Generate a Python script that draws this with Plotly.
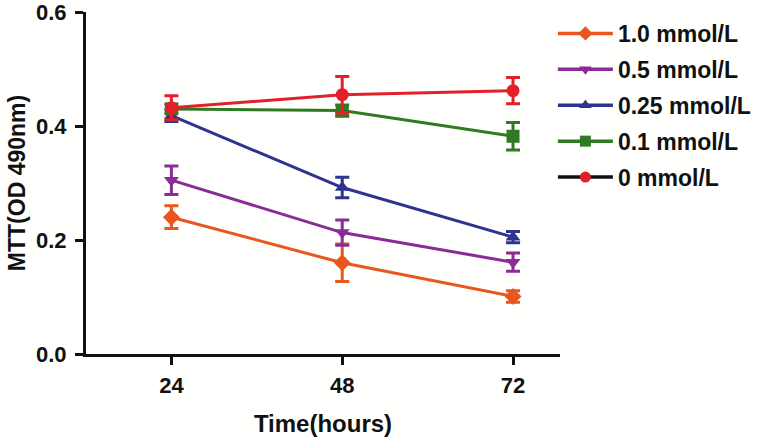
import plotly.graph_objects as go

hours = [24, 48, 72]
series_names = ["1.0 mmol/L", "0.5 mmol/L", "0.25 mmol/L", "0.1 mmol/L", "0 mmol/L"]
val_1_0 = [0.240, 0.160, 0.101]
err_1_0 = [0.020, 0.033, 0.010]
val_0_5 = [0.305, 0.213, 0.161]
err_0_5 = [0.025, 0.022, 0.016]
val_0_25 = [0.418, 0.292, 0.205]
err_0_25 = [0.010, 0.018, 0.010]
val_0_1 = [0.430, 0.427, 0.382]
err_0_1 = [0.008, 0.010, 0.024]
val_0 = [0.432, 0.455, 0.462]
err_0 = [0.021, 0.032, 0.023]
y_ticks = [0.0, 0.2, 0.4, 0.6]
y_ticklabels = ["0.0", "0.2", "0.4", "0.6"]

values = [val_1_0, val_0_5, val_0_25, val_0_1, val_0]
errors = [err_1_0, err_0_5, err_0_25, err_0_1, err_0]
colors = ["#E9561F", "#8A2C96", "#2F3390", "#2F7A22", "#E3202A"]
legend_line_colors = ["#E9561F", "#8A2C96", "#2F3390", "#2F7A22", "#111111"]
symbols = ["diamond", "triangle-down", "triangle-up", "square", "circle"]

fig = go.Figure()
for i in range(5):
    fig.add_trace(go.Scatter(
        x=hours, y=values[i], mode="lines+markers",
        line=dict(color=colors[i], width=3),
        marker=dict(symbol=symbols[i], size=13, color=colors[i]),
        error_y=dict(type="data", array=errors[i], color=colors[i], thickness=3, width=7),
        showlegend=False,
    ))
for i in range(5):
    fig.add_trace(go.Scatter(
        x=[None], y=[None], mode="lines+markers", name="<b>" + series_names[i] + "</b>",
        legendgroup=series_names[i],
        line=dict(color=legend_line_colors[i], width=3.5),
        marker=dict(symbol=symbols[i], size=11, color=colors[i]),
    ))

fam = "Liberation Sans, Arial, sans-serif"
fig.update_layout(
    width=760, height=440,
    margin=dict(l=86, r=200, t=12, b=86, autoexpand=False),
    paper_bgcolor="#FFFFFD", plot_bgcolor="#FFFFFD",
    font=dict(family=fam, size=20, color="#111111"),
    legend=dict(x=0.985, y=1.0, xanchor="left", yanchor="top",
                font=dict(family=fam, size=23, color="#111111"),
                itemwidth=55, tracegroupgap=3, bgcolor="rgba(0,0,0,0)"),
    xaxis=dict(range=[12, 78.6], tickvals=hours, ticktext=["<b>%d</b>" % h for h in hours],
               automargin=False, ticklabeloverflow="allow",
               showgrid=False, zeroline=False, showline=True, linecolor="#111111", linewidth=3,
               ticks="outside", ticklen=8, tickwidth=3, tickcolor="#111111",
               ticklabelstandoff=2,
               tickfont=dict(family=fam, size=22, color="#111111"),
               title=dict(text="<b>Time(hours)</b>", font=dict(family=fam, size=24, color="#111111"), standoff=18)),
    yaxis=dict(range=[0, 0.6], tickvals=y_ticks, ticktext=["<b>%s</b>" % t for t in y_ticklabels],
               automargin=False, ticklabeloverflow="allow",
               showgrid=False, zeroline=False, showline=True, linecolor="#111111", linewidth=3,
               ticks="outside", ticklen=8, tickwidth=3, tickcolor="#111111",
               ticklabelstandoff=4,
               tickfont=dict(family=fam, size=22, color="#111111"),
               title=dict(text="<b>MTT(OD 490nm)</b>", font=dict(family=fam, size=23, color="#111111"), standoff=4)),
)
fig.write_html("out.html", config={"displayModeBar": False},
               post_script="document.body.style.margin='0';document.body.style.background='#FFFFFD';")
